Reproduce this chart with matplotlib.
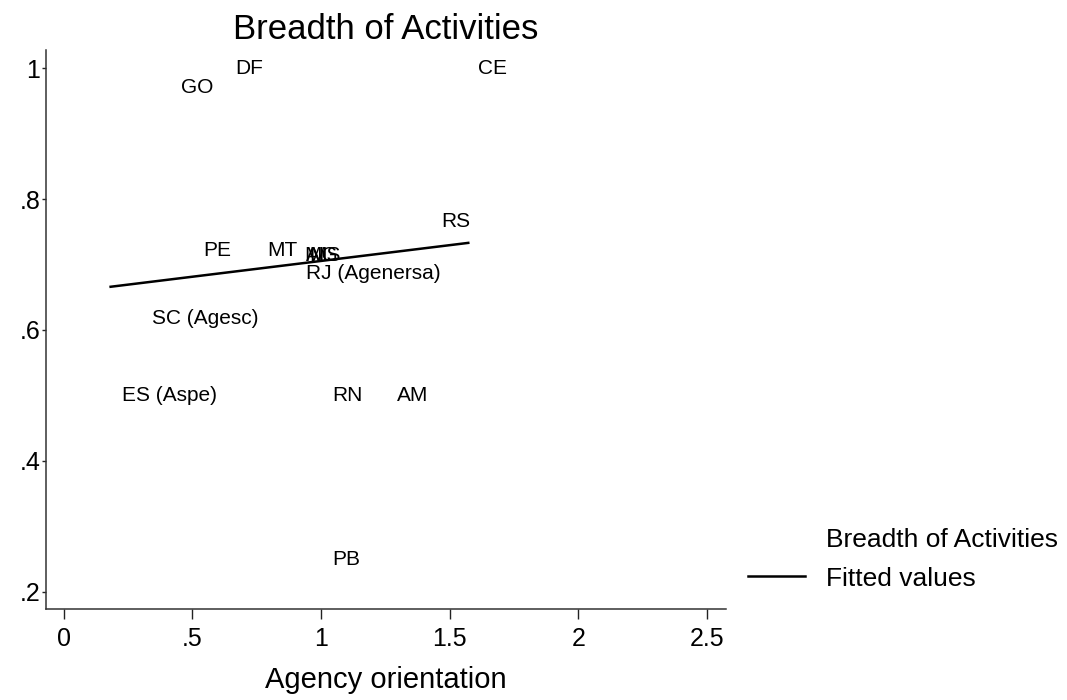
import matplotlib
matplotlib.use('Agg')
from matplotlib import pyplot as plt
from matplotlib.lines import Line2D

plt.rcParams['font.family'] = ['Liberation Sans', 'DejaVu Sans']

# state regulators: label, agency orientation, breadth of activities
labels = ['GO', 'DF', 'CE', 'RS', 'PE', 'MT', 'MG', 'AL', 'MS',
          'RJ (Agenersa)', 'SC (Agesc)', 'ES (Aspe)', 'RN', 'AM', 'PB']
orient = [0.414, 0.623, 1.567, 1.423, 0.50, 0.75, 0.893, 0.90, 0.91,
          0.90, 0.30, 0.185, 1.00, 1.25, 1.00]
breadth = [0.971, 1.0, 1.0, 0.765, 0.722, 0.722, 0.714, 0.714, 0.714,
           0.687, 0.617, 0.50, 0.50, 0.50, 0.25]

# fitted values line
fit_x = [0.183, 1.572]
fit_y = [0.666, 0.733]

xticks = [0, 0.5, 1, 1.5, 2, 2.5]
xticklabels = ['0', '.5', '1', '1.5', '2', '2.5']
yticks = [0.2, 0.4, 0.6, 0.8, 1.0]
yticklabels = ['.2', '.4', '.6', '.8', '1']

fig = plt.figure(figsize=(10.67, 7), dpi=100)
ax = fig.add_axes([46/1067, 1 - 609/700, 680/1067, 559/700])

# invisible markers, labels to the right (clock position 3)
ax.plot(orient, breadth, linestyle='none', marker='none')
for lab, x, y in zip(labels, orient, breadth):
    ax.annotate(lab, (x, y), xytext=(8, 0), textcoords='offset points',
                ha='left', va='center', fontsize=15, color='black')

ax.plot(fit_x, fit_y, '-', color='black', linewidth=1.8)

ax.set_xlim(-0.068, 2.573)
ax.set_ylim(0.174, 1.0275)
ax.set_xticks(xticks)
ax.set_xticklabels(xticklabels, fontsize=18)
ax.set_yticks(yticks)
ax.set_yticklabels(yticklabels, fontsize=18)
ax.tick_params(axis='x', length=7, width=1, color='#222222', pad=6)
ax.tick_params(axis='y', length=3, width=1, color='#222222', pad=1)
for s in ['top', 'right']:
    ax.spines[s].set_visible(False)
for s in ['left', 'bottom']:
    ax.spines[s].set_color('#333333')
    ax.spines[s].set_linewidth(1.1)

ax.set_xlabel('Agency orientation', fontsize=21, labelpad=11)
ax.set_title('Breadth of Activities', fontsize=25, pad=8)

handles = [Line2D([], [], linestyle='none', marker='none'),
           Line2D([], [], color='black', linewidth=1.8)]
fig.legend(handles, ['Breadth of Activities', 'Fitted values'],
           loc='upper left', bbox_to_anchor=(748/1067, 1 - 528/700),
           frameon=False, fontsize=19, handlelength=2.16,
           handletextpad=0.8, borderpad=0, borderaxespad=0,
           labelspacing=0.55)

fig.savefig('out.png', dpi=100, facecolor='white')
